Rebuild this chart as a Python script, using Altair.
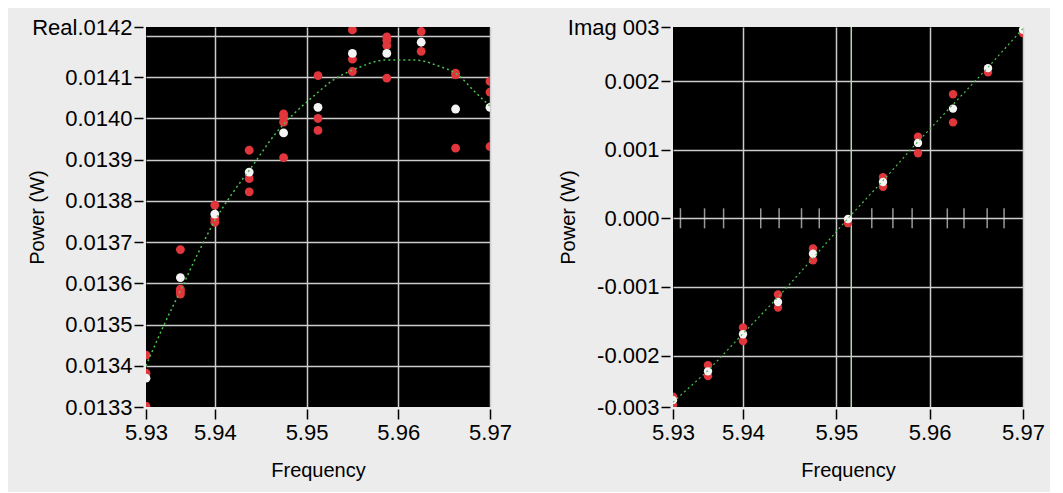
import altair as alt
import pandas as pd

# ---------------- data ----------------
freq = [5.9325, 5.93625, 5.94, 5.94375, 5.9475, 5.95125, 5.955, 5.95875, 5.9625, 5.96625, 5.97]

real_red = [
    [0.013426, 0.013382, 0.013302],
    [0.013682, 0.013586, 0.013574, 0.013580],
    [0.013790, 0.013757, 0.013748],
    [0.013923, 0.013854, 0.013822],
    [0.014011, 0.014003, 0.013991, 0.013905],
    [0.014104, 0.014000, 0.013971],
    [0.014215, 0.014144, 0.014114],
    [0.014198, 0.014189, 0.014177, 0.014098],
    [0.014211, 0.014163],
    [0.014110, 0.014106, 0.013928],
    [0.014090, 0.014064, 0.013932],
]
real_white = [0.013370, 0.013614, 0.013768, 0.013870, 0.013965, 0.014027,
              0.014158, 0.014158, 0.014185, 0.014023, 0.014027]
real_fit_f = [5.9325, 5.93444, 5.93631, 5.93817, 5.94, 5.94187, 5.94407, 5.94664, 5.94846,
              5.95065, 5.95283, 5.95573, 5.95862, 5.96182, 5.96431, 5.96661, 5.96821, 5.97]
real_fit_v = [0.013400, 0.013498, 0.013585, 0.013673, 0.013752, 0.013817, 0.013884, 0.013964, 0.014008,
              0.014052, 0.014092, 0.014124, 0.014142, 0.014142, 0.014128, 0.014104, 0.014068, 0.014030]

imag_red = [
    [-0.00260, -0.00272],
    [-0.00214, -0.00230],
    [-0.00159, -0.00179],
    [-0.00111, -0.00130],
    [-0.00044, -0.00061],
    [-0.00007],
    [0.00060, 0.00046],
    [0.00119, 0.00095],
    [0.00181, 0.00140],
    [0.00213],
    [0.00270],
]
imag_white = [-0.00265, -0.00223, -0.00169, -0.00122, -0.000515, -0.00001,
              0.00053, 0.00110, 0.00160, 0.00219, 0.00275]
imag_fit = [-0.00268, -0.00222, -0.00168, -0.00115, -0.00058, 0.0,
            0.00055, 0.00112, 0.00166, 0.00220, 0.00277]
imag_marks_f = [5.9333, 5.93588, 5.93792, 5.9419, 5.94387, 5.94627, 5.94817,
                5.9538, 5.95606, 5.95812, 5.96189, 5.96368, 5.96616, 5.96797]
cursor_f = [5.9516]

x_domain = [5.9325, 5.97]
x_ticks = [5.9325, 5.94, 5.95, 5.96, 5.97]
x_labels = ["5.93", "5.94", "5.95", "5.96", "5.97"]

real_domain = [0.0133, 0.014222]
real_ticks = [0.0133, 0.0134, 0.0135, 0.0136, 0.0137, 0.0138, 0.0139, 0.0140, 0.0141, 0.0142, 0.014222]
real_labels = ["0.0133", "0.0134", "0.0135", "0.0136", "0.0137", "0.0138", "0.0139",
               "0.0140", "0.0141", "", "Real.0142"]

imag_domain = [-0.00275, 0.00279]
imag_ticks = [-0.00275, -0.002, -0.001, 0.0, 0.001, 0.002, 0.00279]
imag_labels = ["-0.003", "-0.002", "-0.001", "0.000", "0.001", "0.002", "Imag 003"]

# ---------------- tables ----------------
def points(vals_per_col):
    rows = []
    for f, vals in zip(freq, vals_per_col):
        for v in vals:
            rows.append({"f": f, "v": v})
    return pd.DataFrame(rows)

real_red_df = points(real_red)
real_white_df = pd.DataFrame({"f": freq, "v": real_white})
real_fit_df = pd.DataFrame({"f": real_fit_f, "v": real_fit_v})
imag_red_df = points(imag_red)
imag_white_df = pd.DataFrame({"f": freq, "v": imag_white})
imag_fit_df = pd.DataFrame({"f": freq, "v": imag_fit})
imag_marks_df = pd.DataFrame({"f": imag_marks_f, "v": [0.0] * len(imag_marks_f)})
cursor_df = pd.DataFrame({"f": cursor_f})


def label_expr(vals, labs):
    expr = "''"
    for v, l in reversed(list(zip(vals, labs))):
        expr = f"abs(datum.value - ({v!r})) < 1e-9 ? '{l}' : ({expr})"
    return expr


FONT = "Liberation Sans"
RED = "#e0363c"
WHITE = "#f4f4f4"
GREEN = "#4fbf4f"
GRID = "#cccccc"
MSIZE = 78

common_axis = dict(
    labelFont=FONT, labelFontSize=22, labelColor="black",
    titleFont=FONT, titleFontSize=20, titleFontWeight="normal", titleColor="black",
    domain=False, tickColor="black", tickWidth=1.5,
    gridColor=GRID, gridWidth=1.5,
)

x_axis = alt.Axis(
    values=x_ticks, labelExpr=label_expr(x_ticks, x_labels), title="Frequency",
    tickSize=10, offset=2, labelPadding=3, labelBaseline="top",
    gridOpacity={"condition": {"test": "datum.value < 5.933", "value": 0}, "value": 1},
    titleY=67, titleBaseline="alphabetic", labelFlush=False, labelOverlap=False,
    **common_axis,
)


def y_axis(ticks, labels, grid_test, tick_test, title_x):
    kw = dict(common_axis)
    if tick_test:
        kw["tickOpacity"] = {"condition": {"test": tick_test, "value": 0}, "value": 1}
    return alt.Axis(
        values=ticks, labelExpr=label_expr(ticks, labels), title="Power (W)",
        tickSize=9, offset=3, labelPadding=2, labelBaseline="middle",
        gridOpacity={"condition": {"test": grid_test, "value": 0}, "value": 1},
        titleX=title_x, titleBaseline="bottom", titleAngle=270, titleAlign="center",
        labelFlush=False, labelOverlap=False,
        **kw,
    )


x_enc = alt.X("f:Q", scale=alt.Scale(domain=x_domain, nice=False, zero=False), axis=x_axis)

real_y = alt.Y("v:Q", scale=alt.Scale(domain=real_domain, nice=False, zero=False),
               axis=y_axis(real_ticks, real_labels,
                           "datum.value < 0.01331 || datum.value > 0.01421",
                           "abs(datum.value - 0.0142) < 1e-9", -96))
imag_y = alt.Y("v:Q", scale=alt.Scale(domain=imag_domain, nice=False, zero=False),
               axis=y_axis(imag_ticks, imag_labels, "abs(datum.value) > 0.0025", None, -92))

PW, RW, H = 344, 350, 380

real_chart = alt.layer(
    alt.Chart(real_red_df).mark_circle(color=RED, size=MSIZE, opacity=1, clip=True).encode(x=x_enc, y=real_y),
    alt.Chart(real_white_df).mark_circle(color=WHITE, size=MSIZE, opacity=1, clip=True).encode(x=x_enc, y=real_y),
    alt.Chart(real_fit_df).mark_line(color=GREEN, strokeWidth=1.5, strokeDash=[2, 3], interpolate="monotone", clip=True).encode(x=x_enc, y=real_y),
).properties(width=PW, height=H)

imag_chart = alt.layer(
    alt.Chart(imag_marks_df).mark_tick(color="#d8d8d8", orient="vertical", size=20, thickness=1.5).encode(x=x_enc, y=imag_y),
    alt.Chart(cursor_df).mark_rule(color="#b5d6ad", strokeWidth=1.5).encode(x=x_enc),
    alt.Chart(imag_red_df).mark_circle(color=RED, size=MSIZE - 8, opacity=1, clip=True).encode(x=x_enc, y=imag_y),
    alt.Chart(imag_white_df).mark_circle(color=WHITE, size=MSIZE - 8, opacity=1, clip=True).encode(x=x_enc, y=imag_y),
    alt.Chart(imag_fit_df).mark_line(color=GREEN, strokeWidth=1.2, strokeDash=[2, 3], clip=True).encode(x=x_enc, y=imag_y),
).properties(width=RW, height=H)

chart = alt.hconcat(real_chart, imag_chart, spacing=183, bounds="flush").properties(
    padding={"left": 19, "top": 8, "right": 5, "bottom": 12},
    background="#ececec",
).configure_view(fill="black", stroke="transparent", strokeWidth=0)

chart.save("out.html", embed_options={"renderer": "svg", "actions": False})
